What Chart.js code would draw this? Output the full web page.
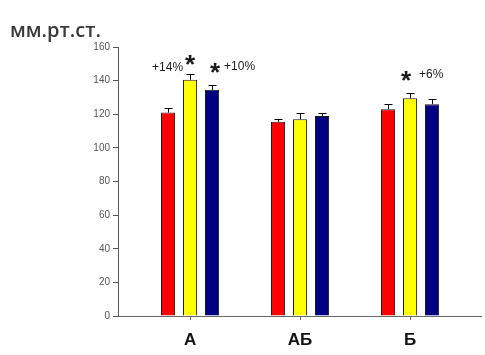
<!DOCTYPE html>
<html>
<head>
<meta charset="utf-8">
<script src="https://cdn.jsdelivr.net/npm/chart.js@4"></script>
<style>
  html, body { margin: 0; padding: 0; background: #fff; }
</style>
</head>
<body>
<canvas id="chart" width="485" height="355"></canvas>
<script>
const categories = ["А", "АБ", "Б"];
const redValues = [121, 115.5, 123];
const yellowValues = [140.5, 117, 129.5];
const blueValues = [134.5, 119, 126];
const redErrors = [2.5, 1.5, 3];
const yellowErrors = [3.5, 4, 3];
const blueErrors = [3, 1.5, 3];
const yTicks = [0, 20, 40, 60, 80, 100, 120, 140, 160];
// significance marks: which category / series gets a star, and its % text
const markCategory = [0, 0, 2];
const markSeries = [1, 2, 1];
const markText = ["+14%", "+10%", "+6%"];

const seriesValues = [redValues, yellowValues, blueValues];
const seriesErrors = [redErrors, yellowErrors, blueErrors];
const seriesColors = ["#ff0000", "#ffff00", "#000080"];
const positions = categories.map((c, i) => i + 1);

// where star and % text sit relative to the error cap (px)
const markPlacement = [
  { starDx: 0, starUp: 14, textDx: -7, textUp: 7, align: "right" },
  { starDx: 3, starUp: 17, textDx: 12, textUp: 19, align: "left" },
  { starDx: -4, starUp: 17.5, textDx: 9, textUp: 20, align: "left" }
];

function drawCentered(ctx, text, x, cy, font, align) {
  ctx.font = font;
  ctx.textAlign = align;
  ctx.textBaseline = "alphabetic";
  const m = ctx.measureText(text);
  ctx.fillText(text, x, cy + (m.actualBoundingBoxAscent - m.actualBoundingBoxDescent) / 2);
}

const errorBars = {
  id: "errorBars",
  afterDatasetsDraw(chart) {
    const ctx = chart.ctx;
    const y = chart.scales.y;
    ctx.save();
    ctx.strokeStyle = "#000";
    ctx.lineWidth = 1;
    chart.data.datasets.forEach((ds, d) => {
      chart.getDatasetMeta(d).data.forEach((bar, i) => {
        const top = Math.round(y.getPixelForValue(ds.data[i] + ds.errors[i])) + 0.5;
        const x = Math.round(bar.x) + 0.5;
        ctx.beginPath();
        ctx.moveTo(x, bar.y);
        ctx.lineTo(x, top);
        ctx.moveTo(x - 4, top);
        ctx.lineTo(x + 4, top);
        ctx.stroke();
      });
    });
    ctx.restore();
  }
};

const marks = {
  id: "marks",
  afterDatasetsDraw(chart) {
    const ctx = chart.ctx;
    const y = chart.scales.y;
    ctx.save();
    ctx.fillStyle = "#1a1a1a";
    markText.forEach((t, k) => {
      const c = markCategory[k], s = markSeries[k];
      const bar = chart.getDatasetMeta(s).data[c];
      const capY = y.getPixelForValue(seriesValues[s][c] + seriesErrors[s][c]);
      const p = markPlacement[k];
      drawCentered(ctx, "*", bar.x + p.starDx, capY - p.starUp, "bold 26px 'Liberation Sans'", "center");
      drawCentered(ctx, t, bar.x + p.textDx, capY - p.textUp, "12px 'Liberation Sans'", p.align);
    });
    ctx.restore();
  }
};

new Chart(document.getElementById("chart"), {
  type: "bar",
  data: {
    labels: positions,
    datasets: seriesValues.map((vals, s) => ({
      data: vals,
      errors: seriesErrors[s],
      backgroundColor: seriesColors[s],
      borderColor: "#1a1a1a",
      borderWidth: 1,
      categoryPercentage: 0.6,
      barPercentage: 0.64
    }))
  },
  options: {
    responsive: false,
    animation: false,
    layout: { padding: { left: 10, right: 4, top: 0, bottom: 0 } },
    plugins: {
      legend: { display: false },
      tooltip: { enabled: false },
      title: {
        display: true,
        text: "мм.рт.ст.",
        align: "start",
        color: "#3a3a3a",
        font: { family: "Open Sans", size: 20, weight: "600" },
        padding: { top: 19, bottom: 4 }
      }
    },
    scales: {
      x: {
        type: "linear",
        bounds: "data",
        min: 0.345,
        max: 3.645,
        offset: false,
        afterBuildTicks: s => { s.ticks = positions.map(v => ({ value: v })); },
        grid: { offset: false, drawOnChartArea: false, tickLength: 4, color: "#666" },
        border: { color: "#666" },
        ticks: {
          autoSkip: false,
          maxRotation: 0,
          padding: 10,
          color: "#111",
          font: { family: "Liberation Sans", size: 17, weight: "bold" },
          callback: v => categories[Math.round(v) - 1] ?? ""
        },
        afterFit: s => { s.height = 39; }
      },
      y: {
        min: 0,
        max: 160,
        afterBuildTicks: s => { s.ticks = yTicks.map(v => ({ value: v })); },
        grid: { drawOnChartArea: false, tickLength: 5, color: "#555" },
        border: { color: "#555" },
        ticks: { padding: 3, color: "#555", font: { family: "Liberation Sans", size: 10 } },
        afterFit: s => { s.width = 108; }
      }
    }
  },
  plugins: [errorBars, marks]
});
</script>
</body>
</html>
